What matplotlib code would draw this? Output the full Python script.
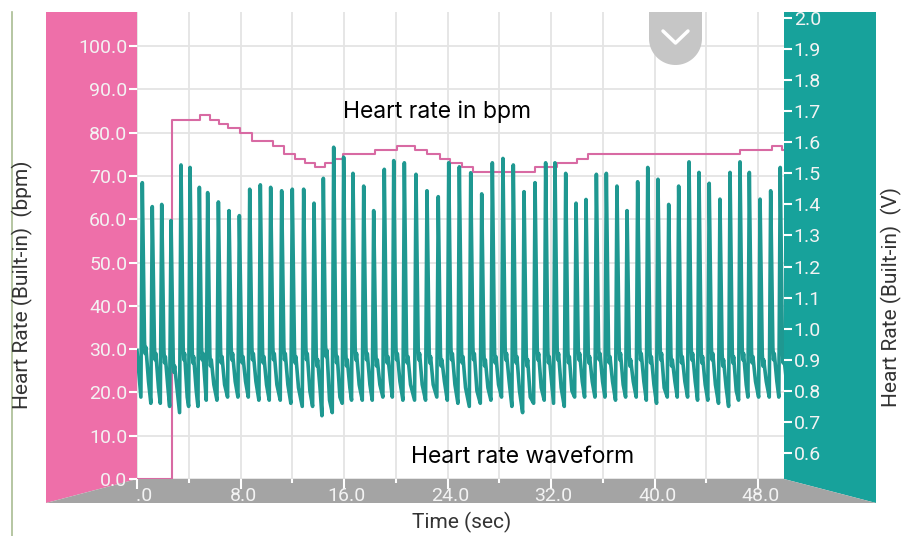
import numpy as np
import matplotlib
matplotlib.use('Agg')
import matplotlib.pyplot as plt
from matplotlib.patches import Polygon
from matplotlib.transforms import Bbox, TransformedBbox, blended_transform_factory

W, H = 902, 536

# heart rate (bpm), step series
hr_t = [0.0, 2.73, 4.87, 5.64, 6.36, 7.06, 7.96, 8.86, 10.53, 11.36, 12.21, 12.98,
        13.76, 14.53, 15.12, 15.94, 18.39, 20.07, 21.48, 22.39, 23.41, 24.19, 25.09,
        26.0, 30.76, 32.43, 33.98, 34.88, 46.6, 49.05, 49.82, 50.0]
hr_bpm = [0, 83, 84, 83, 82, 81, 80, 78, 77, 75, 74, 73,
          72, 73, 74, 75, 76, 77, 76, 75, 74, 73, 72,
          71, 72, 73, 74, 75, 76, 77, 76, 76]

# waveform (V): one entry per beat
beat_t = [0.41, 1.18, 1.91, 2.63, 3.40, 4.10, 4.82, 5.46, 6.29, 7.11, 7.91,
          8.71, 9.53, 10.33, 11.18, 12.00, 12.88, 13.68, 14.40, 15.20, 15.97, 16.69,
          17.52, 18.29, 19.11, 19.84, 20.66, 21.56, 22.41, 23.28, 24.09, 24.91,
          25.79, 26.64, 27.46, 28.28, 29.08, 29.91, 30.76, 31.58, 32.30, 33.13,
          33.93, 34.70, 35.50, 36.27, 37.09, 37.87, 38.69, 39.47, 40.26, 41.09, 41.86,
          42.66, 43.43, 44.22, 45.05, 45.83, 46.60, 47.32, 48.15, 48.97, 49.71]
beat_peak = [1.470, 1.393, 1.400, 1.348, 1.527, 1.519, 1.455, 1.438, 1.408, 1.380, 1.364,
             1.449, 1.463, 1.455, 1.444, 1.449, 1.449, 1.404, 1.484, 1.584, 1.552, 1.500,
             1.459, 1.380, 1.513, 1.541, 1.534, 1.497, 1.444, 1.425, 1.534, 1.521,
             1.502, 1.434, 1.534, 1.548, 1.527, 1.441, 1.470, 1.534, 1.534, 1.500,
             1.404, 1.416, 1.497, 1.500, 1.459, 1.380, 1.473, 1.519, 1.481, 1.400, 1.459,
             1.537, 1.503, 1.468, 1.417, 1.503, 1.537, 1.503, 1.417, 1.444, 1.519]
beat_trough = [0.78, 0.76, 0.76, 0.75, 0.73, 0.75, 0.75, 0.77, 0.77, 0.78, 0.78,
               0.78, 0.77, 0.77, 0.77, 0.76, 0.75, 0.75, 0.72, 0.73, 0.76, 0.77,
               0.77, 0.77, 0.78, 0.78, 0.77, 0.77, 0.77, 0.78, 0.77, 0.76,
               0.75, 0.76, 0.77, 0.78, 0.75, 0.73, 0.76, 0.77, 0.76, 0.75,
               0.78, 0.78, 0.78, 0.78, 0.77, 0.78, 0.78, 0.77, 0.76, 0.78, 0.78,
               0.78, 0.77, 0.77, 0.76, 0.75, 0.77, 0.78, 0.78, 0.78, 0.78]
beat_notch = [0.94, 0.92, 0.91, 0.88, 0.92, 0.91, 0.92, 0.90, 0.91, 0.92, 0.91,
              0.92, 0.91, 0.92, 0.92, 0.91, 0.92, 0.90, 0.93, 0.91, 0.90, 0.92,
              0.92, 0.90, 0.91, 0.92, 0.91, 0.92, 0.91, 0.90, 0.92, 0.91,
              0.92, 0.90, 0.91, 0.92, 0.91, 0.90, 0.92, 0.91, 0.92, 0.91,
              0.92, 0.91, 0.92, 0.91, 0.92, 0.90, 0.92, 0.91, 0.92, 0.90, 0.91,
              0.92, 0.91, 0.92, 0.90, 0.91, 0.92, 0.91, 0.90, 0.92, 0.91]
wave_start = (0.0, 0.93)

x_ticks = [0, 8, 16, 24, 32, 40, 48]
x_minor = [4, 12, 20, 28, 36, 44]
x_labels = ['0.0', '8.0', '16.0', '24.0', '32.0', '40.0', '48.0']
bpm_ticks = [0, 10, 20, 30, 40, 50, 60, 70, 80, 90, 100]
volt_ticks = [0.6, 0.7, 0.8, 0.9, 1.0, 1.1, 1.2, 1.3, 1.4, 1.5, 1.6, 1.7, 1.8, 1.9, 2.0]

PINK = '#ee6fa9'
TEAL = '#17a29b'
GRAYBAR = '#a4a4a4'
PINKLINE = '#d86aa3'
WAVE = '#1f9891'
GRID = '#e4e4e4'
TICKTXT = '#f3f3f3'


def fp(x, y):
    # pixel -> figure fraction
    return (x / W, 1 - y / H)


fig = plt.figure(figsize=(W / 100, H / 100), dpi=100)
fig.patch.set_facecolor('white')

# side panels and bottom bar
for pts, col in [([fp(46, 12), fp(137, 12), fp(137, 479), fp(46, 503)], PINK),
                 ([fp(784, 12), fp(876, 12), fp(876, 503), fp(784, 479)], TEAL),
                 ([fp(46, 503), fp(137, 479), fp(784, 479), fp(876, 503)], GRAYBAR)]:
    fig.add_artist(Polygon(pts, closed=True, transform=fig.transFigure,
                           facecolor=col, edgecolor='none', zorder=-1))

fig.add_artist(plt.Line2D([12 / W, 12 / W], [1 - 12 / H, 0], transform=fig.transFigure,
                          color='#a9bc92', lw=1.2, zorder=-1))

x0, y0 = fp(137, 479)
x1, y1 = fp(784, 12)
ax = fig.add_axes([x0, y0, x1 - x0, y1 - y0])
ax.set_facecolor('white')
ax.set_xlim(0, 50)
ax.set_ylim(0, (479 - 12) / 4.33)
for s in ax.spines.values():
    s.set_visible(False)

ax.set_xticks(x_ticks)
ax.set_xticks(x_minor, minor=True)
ax.set_yticks(bpm_ticks)
ax.set_yticklabels([f'{v:.1f}' for v in bpm_ticks])
ax.tick_params(axis='x', which='major', direction='out', length=7, width=1.5,
               color='white', labelbottom=False)
ax.tick_params(axis='x', which='minor', direction='out', length=3, width=1.5,
               color='white', labelbottom=False)
ax.tick_params(axis='y', direction='out', length=6, width=1.5, color='white',
               labelcolor=TICKTXT, labelsize=14, pad=1)
for lab in ax.get_yticklabels():
    lab.set_fontfamily('Roboto')
ax.set_axisbelow(True)
ax.grid(axis='x', which='both', color=GRID, lw=1.3)
ax.grid(axis='y', which='major', color=GRID, lw=1.3)

ax.step(hr_t, hr_bpm, where='post', color=PINKLINE, lw=1.5)

# waveform on the volt axis
ax2 = ax.twinx()
ax2.set_ylim(0.6 - 26 / 310.7, 2.0 + 6 / 310.7)
for s in ax2.spines.values():
    s.set_visible(False)
ax2.set_yticks(volt_ticks)
ax2.set_yticklabels([f'{v:.1f}' for v in volt_ticks])
ax2.tick_params(axis='y', direction='out', length=6, width=1.5, color='white',
                labelcolor=TICKTXT, labelsize=14, pad=1)
for lab in ax2.get_yticklabels():
    lab.set_fontfamily('Roboto')

wt = [wave_start[0]]
wv = [wave_start[1]]
for tp, pv, tv, nv in zip(beat_t, beat_peak, beat_trough, beat_notch):
    wt += [tp - 0.11, tp, tp + 0.17, tp + 0.22, tp + 0.28, tp + 0.48]
    wv += [tv, pv, nv + 0.02, nv - 0.02, nv, tv + 0.05]
ax2.plot(wt, wv, color=WAVE, lw=2.6, solid_joinstyle='round')

# x tick labels, clipped to the gray bar like the app does
clip = TransformedBbox(Bbox([fp(137, 503), fp(876, 479)]), fig.transFigure)
tr = blended_transform_factory(ax.transData, fig.transFigure)
for t, s in zip(x_ticks, x_labels):
    txt = fig.text(t + 0.2, 1 - 496 / H, s, transform=tr, ha='center', va='center',
                   color=TICKTXT, fontsize=14, family='Roboto')
    txt.set_clip_box(clip)
    txt.set_clip_on(True)

# axis titles
fig.text(*fp(22, 285), 'Heart Rate (Built-in)  (bpm)', rotation=90, ha='center',
         va='center', fontsize=15, color='#333333', family='Roboto')
fig.text(*fp(891, 297), 'Heart Rate (Built-in)  (V)', rotation=90, ha='center',
         va='center', fontsize=15, color='#333333', family='Roboto')
fig.text(*fp(462, 522), 'Time (sec)', ha='center', va='center', fontsize=15,
         color='#333333', family='Roboto')

# annotations
fig.text(*fp(437, 112), 'Heart rate in bpm', ha='center', va='center',
         fontsize=16.5, color='black', family='Inter')
fig.text(*fp(523, 457), 'Heart rate waveform', ha='center', va='center',
         fontsize=16.5, color='black', family='Inter')

# collapse button at the top
ang = np.linspace(np.pi, 2 * np.pi, 40)
btn = [fp(649, 12)] + [fp(675.5 + 26.5 * np.cos(a), 38.5 - 26.5 * np.sin(a)) for a in ang] + [fp(702, 12)]
fig.add_artist(Polygon(btn, closed=True, transform=fig.transFigure,
                       facecolor='#c6c6c6', edgecolor='none', zorder=5))
fig.add_artist(plt.Line2D([663 / W, 675.5 / W, 688 / W], [1 - 31 / H, 1 - 43 / H, 1 - 31 / H],
                          transform=fig.transFigure, color='white', lw=2.5, zorder=6,
                          solid_capstyle='round'))

fig.savefig('out.png', dpi=100)
